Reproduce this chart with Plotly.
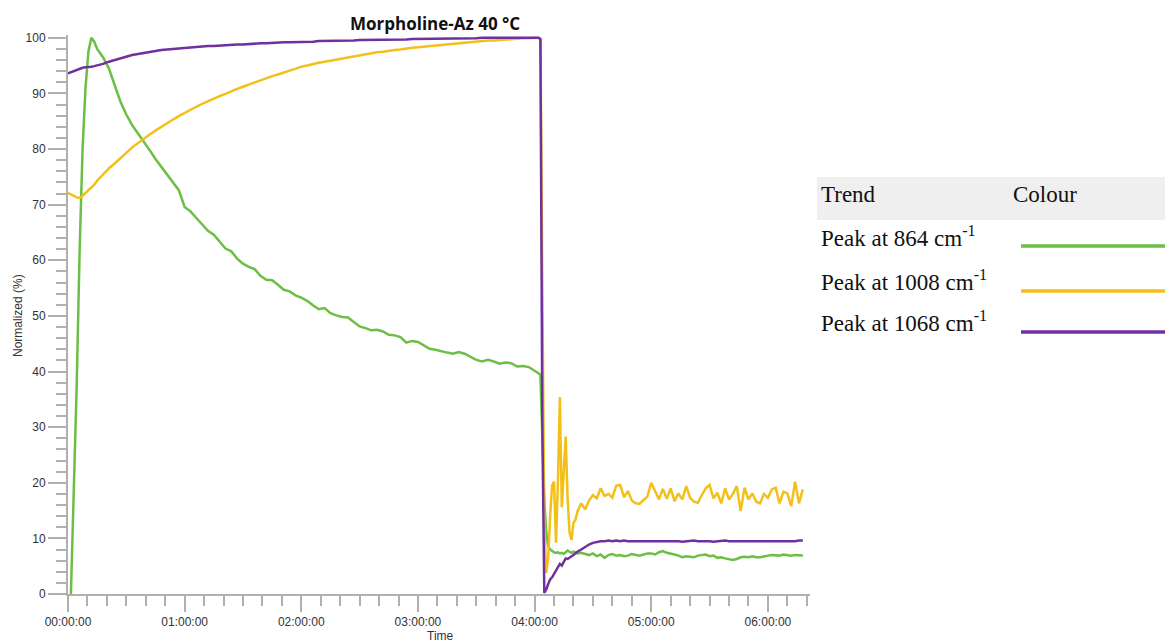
import plotly.graph_objects as go
import pandas as pd

# time since start, minutes
time_min = [
    0, 1.5, 3, 4.5, 6, 7.5, 9, 10.5, 12, 13.5, 15,
    18, 21, 24, 27, 30, 33, 36, 39, 42, 45, 48, 51, 54, 57, 60,
    63, 66, 69, 72, 75, 78, 81, 84, 87, 90, 93, 96, 99, 102, 105, 108, 111, 114, 117, 120,
    123, 126, 129, 132, 135, 138, 141, 144, 147, 150, 153, 156, 159, 162, 165, 168, 171, 174, 177, 180,
    183, 186, 189, 192, 195, 198, 201, 204, 207, 210, 213, 216, 219, 222, 225, 228, 231, 234, 237, 240,
    242, 243, 244, 245, 246, 247, 248, 249, 250, 251, 252, 253, 254, 255, 256, 257, 258, 259, 260, 261, 262,
    264, 266, 268, 270, 272, 274, 276, 278, 280, 282, 284, 286, 288, 290, 292, 294, 296, 298, 300,
    302, 304, 306, 308, 310, 312, 314, 316, 318, 320, 322, 324, 326, 328, 330, 332, 334, 336, 338, 340,
    342, 344, 346, 348, 350, 352, 354, 356, 358, 360, 362, 364, 366, 368, 370, 372, 374, 376, 378,
]

peak_864 = [
    None, 0, 18, 38, 62, 80, 91, 97.5, 100, 99.3, 98.0,
    96.5, 94.5, 91.5, 88.5, 86.2, 84.3, 82.8, 81.4, 79.8, 78.2, 76.8, 75.3, 74.0, 72.6, 69.6,
    68.8, 67.6, 66.4, 65.3, 64.6, 63.3, 62.1, 61.6, 60.3, 59.4, 58.8, 58.4, 57.2, 56.5, 56.4, 55.6, 54.7, 54.4, 53.7, 53.3,
    52.7, 51.9, 51.2, 51.4, 50.5, 50.1, 49.8, 49.7, 48.9, 48.1, 47.8, 47.4, 47.5, 47.2, 46.6, 46.5, 46.2, 45.2, 45.5, 45.3,
    44.7, 44.1, 43.9, 43.6, 43.4, 43.2, 43.5, 43.2, 42.6, 42.1, 41.8, 42.1, 41.8, 41.4, 41.6, 41.5, 40.9, 41.0, 40.8, 40.2,
    39.7, 39.4, 28, 17, 11, 8.6, 8.0, 7.7, 7.5, 7.4, 7.5, 7.3, 7.4, 7.2, 7.5, 7.8, 7.6, 7.4, 7.6, 7.5, 7.3,
    7.4, 7.2, 7.0, 7.3, 6.8, 7.1, 6.5, 7.0, 7.2, 6.9, 7.0, 6.8, 6.9, 7.2, 7.0, 6.9, 7.1, 7.3, 7.3,
    7.1, 7.5, 7.7, 7.4, 7.3, 7.1, 6.9, 6.6, 6.8, 6.7, 6.6, 6.9, 7.0, 7.1, 6.8, 6.9, 6.5, 6.6, 6.4, 6.2,
    6.1, 6.3, 6.6, 6.7, 6.6, 6.8, 6.6, 6.6, 6.8, 6.9, 7.0, 7.0, 6.9, 7.1, 7.0, 6.9, 7.0, 6.9, 6.9,
]

peak_1008 = [
    72.1, 71.9, 71.6, 71.3, 71.2, 71.6, 72.1, 72.6, 73.1, 73.6, 74.3,
    75.5, 76.5, 77.4, 78.3, 79.3, 80.3, 81.1, 81.8, 82.6, 83.3, 84.0, 84.7, 85.3, 85.9, 86.5,
    87.0, 87.6, 88.1, 88.6, 89.0, 89.5, 89.9, 90.4, 90.8, 91.2, 91.6, 92.0, 92.4, 92.8, 93.1, 93.4, 93.8, 94.1, 94.4, 94.8,
    95.0, 95.3, 95.5, 95.7, 95.9, 96.1, 96.3, 96.5, 96.7, 96.9, 97.0, 97.2, 97.4, 97.5, 97.7, 97.8, 97.9, 98.1, 98.2, 98.3,
    98.4, 98.6, 98.7, 98.8, 98.9, 99.0, 99.1, 99.2, 99.3, 99.3, 99.4, 99.5, 99.5, 99.6, 99.7, 99.7, 99.8, 99.9, 99.9, 100,
    100, 99.6, 55, 12, 3.8, 6.5, 14, 19.5, 20.2, 9.2, 20, 35.4, 15.6, 22, 28.3, 17, 11, 9.7, 12.8, 13.3, 14.8,
    16.3, 15.2, 16.8, 17.8, 17.2, 19.0, 17.6, 18.0, 17.3, 19.5, 19.6, 17.4, 18.5, 16.8, 16.3, 16.2, 16.9, 17.5, 20.0,
    18.4, 17.0, 18.9, 17.1, 19.0, 16.7, 18.1, 17.0, 19.4, 17.3, 16.6, 16.4, 17.8, 19.0, 19.6, 17.2, 18.2, 16.3, 19.0, 17.0,
    18.0, 19.4, 14.9, 19.1, 17.0, 18.1, 16.6, 16.3, 18.0, 17.3, 18.8, 19.1, 16.3, 18.4, 18.1, 15.8, 20.2, 16.3, 18.8,
]

peak_1068 = [
    93.6, 93.8, 94.0, 94.3, 94.5, 94.6, 94.7, 94.7, 94.8, 94.9, 95.0,
    95.3, 95.7, 96.0, 96.4, 96.7, 96.9, 97.1, 97.3, 97.5, 97.6, 97.8, 97.9, 98.0, 98.05, 98.1,
    98.2, 98.3, 98.4, 98.5, 98.5, 98.6, 98.6, 98.7, 98.8, 98.8, 98.9, 98.9, 99.0, 99.0, 99.1, 99.1, 99.2, 99.2, 99.2, 99.3,
    99.3, 99.3, 99.4, 99.4, 99.4, 99.5, 99.5, 99.5, 99.5, 99.6, 99.6, 99.6, 99.6, 99.7, 99.7, 99.7, 99.7, 99.7, 99.8, 99.8,
    99.8, 99.8, 99.8, 99.8, 99.9, 99.9, 99.9, 99.9, 99.9, 99.9, 100, 100, 100, 100, 100, 100, 100, 100, 100, 100,
    100, 99.8, 30, 0.2, 0.8, 1.8, 2.6, 3.0, 3.6, 4.0, 4.8, 5.4, 5.1, 5.8, 6.4, 6.3, 6.5, 6.8, 7.0, 7.3, 7.6,
    8.0, 8.5, 8.9, 9.2, 9.4, 9.5, 9.5, 9.6, 9.5, 9.6, 9.5, 9.6, 9.5, 9.5, 9.6, 9.5, 9.5, 9.6, 9.5,
    9.5, 9.6, 9.5, 9.5, 9.6, 9.5, 9.5, 9.4, 9.5, 9.5, 9.6, 9.5, 9.5, 9.6, 9.5, 9.4, 9.5, 9.5, 9.6, 9.5,
    9.5, 9.4, 9.5, 9.5, 9.4, 9.5, 9.5, 9.4, 9.5, 9.4, 9.4, 9.5, 9.4, 9.5, 9.4, 9.5, 9.5, 9.6, 9.6,
]

series_names = ["Peak at 864 cm<sup>-1</sup>", "Peak at 1008 cm<sup>-1</sup>", "Peak at 1068 cm<sup>-1</sup>"]
series_colors = ["#6cbf46", "#f2c019", "#7030a0"]

assert len(time_min) == len(peak_864) == len(peak_1008) == len(peak_1068)

t = pd.Timestamp("2000-01-01") + pd.to_timedelta(time_min, unit="m")

fig = go.Figure()
for name, vals, col in zip(series_names, [peak_864, peak_1008, peak_1068], series_colors):
    fig.add_trace(go.Scatter(x=t, y=vals, mode="lines", name=name,
                             line=dict(color=col, width=2.5), showlegend=False))

# page body has an 8px margin, so the figure is drawn offset by 8px
OFF = 8
W, H = 1173 - OFF, 641 - OFF
# plot box in page pixels
L, R, T, B = 68, 810, 35, 594
def px_x(p):
    return (p - L) / (R - L)
def px_y(p):
    return (B - p) / (B - T)

axis_grey = "#b0b0b0"
tick_font = dict(family="Liberation Sans, Arial", size=12, color="#333333")

fig.update_layout(
    width=W, height=H,
    margin=dict(l=L - OFF, r=W - (R - OFF), t=T - OFF, b=H - (B - OFF)),
    paper_bgcolor="white", plot_bgcolor="white",
    xaxis=dict(
        type="date",
        range=["2000-01-01 00:00:00", "2000-01-01 06:21:40"],
        tick0="2000-01-01", dtick=3600000, tickformat="%H:%M:%S",
        showgrid=False, zeroline=False,
        showline=True, linecolor=axis_grey, linewidth=2,
        ticks="outside", ticklen=16, tickwidth=2, tickcolor=axis_grey,
        minor=dict(dtick=600000, ticks="outside", ticklen=10, tickwidth=2,
                   tickcolor=axis_grey, showgrid=False),
        tickfont=tick_font,
    ),
    yaxis=dict(
        range=[0, 100.5],
        tick0=0, dtick=10,
        showgrid=False, zeroline=False,
        showline=True, linecolor=axis_grey, linewidth=2,
        ticks="outside", ticklen=18, tickwidth=2, tickcolor=axis_grey,
        minor=dict(dtick=2, ticks="outside", ticklen=10, tickwidth=2,
                   tickcolor=axis_grey, showgrid=False),
        tickfont=tick_font,
    ),
)

def label(text, x, y, font, xanchor="center", **kw):
    fig.add_annotation(text=text, xref="paper", yref="paper", x=px_x(x), y=px_y(y),
                       xanchor=xanchor, yanchor="middle", showarrow=False, font=font, **kw)

# titles
label("<b>Morpholine-Az 40 °C</b>", 435, 24, dict(family="Open Sans", size=17, color="#111111"))
label("Time", 440, 636, tick_font)
label("Normalized (%)", 18, 316, tick_font, textangle=-90)

# colour key table on the right
serif = dict(family="Liberation Serif, Times New Roman", size=23, color="#111111")
fig.add_shape(type="rect", xref="paper", yref="paper",
              x0=px_x(817), x1=px_x(1180), y0=px_y(220), y1=px_y(177),
              fillcolor="#efefef", line=dict(width=0), layer="below")
label("Trend", 819, 194, serif, xanchor="left")
label("Colour", 1011, 194, serif, xanchor="left")
row_text_y = [236, 280, 322]
row_line_y = [246, 291, 332]
for name, col, ty, ly in zip(series_names, series_colors, row_text_y, row_line_y):
    label(name, 819, ty, serif, xanchor="left")
    fig.add_shape(type="line", xref="paper", yref="paper",
                  x0=px_x(1021), x1=px_x(1180), y0=px_y(ly), y1=px_y(ly),
                  line=dict(color=col, width=3.5))

fig.write_html("out.html")
